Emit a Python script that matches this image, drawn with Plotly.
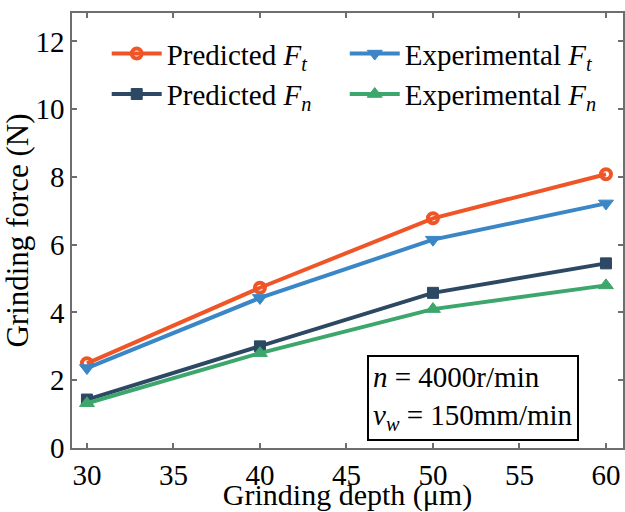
import plotly.graph_objects as go

depth = [30, 40, 50, 60]
pred_ft = [2.50, 4.73, 6.78, 8.08]
exp_ft = [2.36, 4.43, 6.15, 7.22]
pred_fn = [1.43, 3.00, 4.58, 5.45]
exp_fn = [1.32, 2.80, 4.10, 4.80]

x_ticks = [30, 35, 40, 45, 50, 55, 60]
y_ticks = [0, 2, 4, 6, 8, 10, 12]

FONT = "Liberation Serif"
ORANGE = "#EF5527"
BLUE = "#3A86C6"
NAVY = "#2C4862"
GREEN = "#3DA66C"

fig = go.Figure()
fig.add_trace(go.Scatter(x=depth, y=pred_ft, mode="lines+markers", legend="legend",
                         name="Predicted <i>F</i><sub><i>t</i></sub>",
                         line=dict(color=ORANGE, width=4),
                         marker=dict(symbol="circle-open", size=10, color=ORANGE,
                                     line=dict(width=4, color=ORANGE))))
fig.add_trace(go.Scatter(x=depth, y=exp_ft, mode="lines+markers", legend="legend2",
                         name="Experimental <i>F</i><sub><i>t</i></sub>",
                         line=dict(color=BLUE, width=4),
                         marker=dict(symbol="triangle-down", size=13, color=BLUE,
                                     line=dict(width=1, color=BLUE))))
fig.add_trace(go.Scatter(x=depth, y=pred_fn, mode="lines+markers", legend="legend3",
                         name="Predicted <i>F</i><sub><i>n</i></sub>",
                         line=dict(color=NAVY, width=4),
                         marker=dict(symbol="square", size=11, color=NAVY,
                                     line=dict(width=1, color=NAVY))))
fig.add_trace(go.Scatter(x=depth, y=exp_fn, mode="lines+markers", legend="legend4",
                         name="Experimental <i>F</i><sub><i>n</i></sub>",
                         line=dict(color=GREEN, width=4),
                         marker=dict(symbol="triangle-up", size=13, color=GREEN,
                                     line=dict(width=1, color=GREEN))))

axis_common = dict(showline=True, linecolor="#6e6e6e", linewidth=1.5, mirror="ticks",
                   ticks="inside", ticklen=5, tickwidth=1.5, tickcolor="#6e6e6e",
                   showgrid=False, zeroline=False)

fig.update_xaxes(range=[29.136, 60.985], tickvals=x_ticks,
                 tickfont=dict(family=FONT, size=29, color="black"),
                 title=dict(text="Grinding depth (μm)", font=dict(family=FONT, size=30, color="black"),
                            standoff=0),
                 **axis_common)
fig.update_yaxes(range=[0, 12.84], tickvals=y_ticks,
                 tickfont=dict(family=FONT, size=29, color="black"),
                 title=dict(text="Grinding force (N)", font=dict(family=FONT, size=31, color="black"),
                            standoff=2),
                 **axis_common)

fig.add_annotation(xref="paper", yref="paper", x=0.727, y=0.114, xanchor="center", yanchor="middle",
                   text="<i>n</i> = 4000r/min<br><i>v</i><sub><i>w</i></sub> = 150mm/min",
                   showarrow=False, align="left", bordercolor="black", borderwidth=2, borderpad=4,
                   bgcolor="white", font=dict(family=FONT, size=29, color="black"))

leg_common = dict(orientation="v", xanchor="left", yanchor="top",
                  bgcolor="rgba(0,0,0,0)", font=dict(family=FONT, size=29, color="black"),
                  itemwidth=50, tracegroupgap=0)

fig.update_layout(width=625, height=512, margin=dict(l=72, r=0, t=13, b=60),
                  font=dict(family=FONT, color="black"),
                  plot_bgcolor="white", paper_bgcolor="white",
                  showlegend=True,
                  legend=dict(x=0.063, y=0.965, **leg_common),
                  legend2=dict(x=0.495, y=0.965, **leg_common),
                  legend3=dict(x=0.063, y=0.872, **leg_common),
                  legend4=dict(x=0.495, y=0.872, **leg_common))

fig.write_html("out.html")
